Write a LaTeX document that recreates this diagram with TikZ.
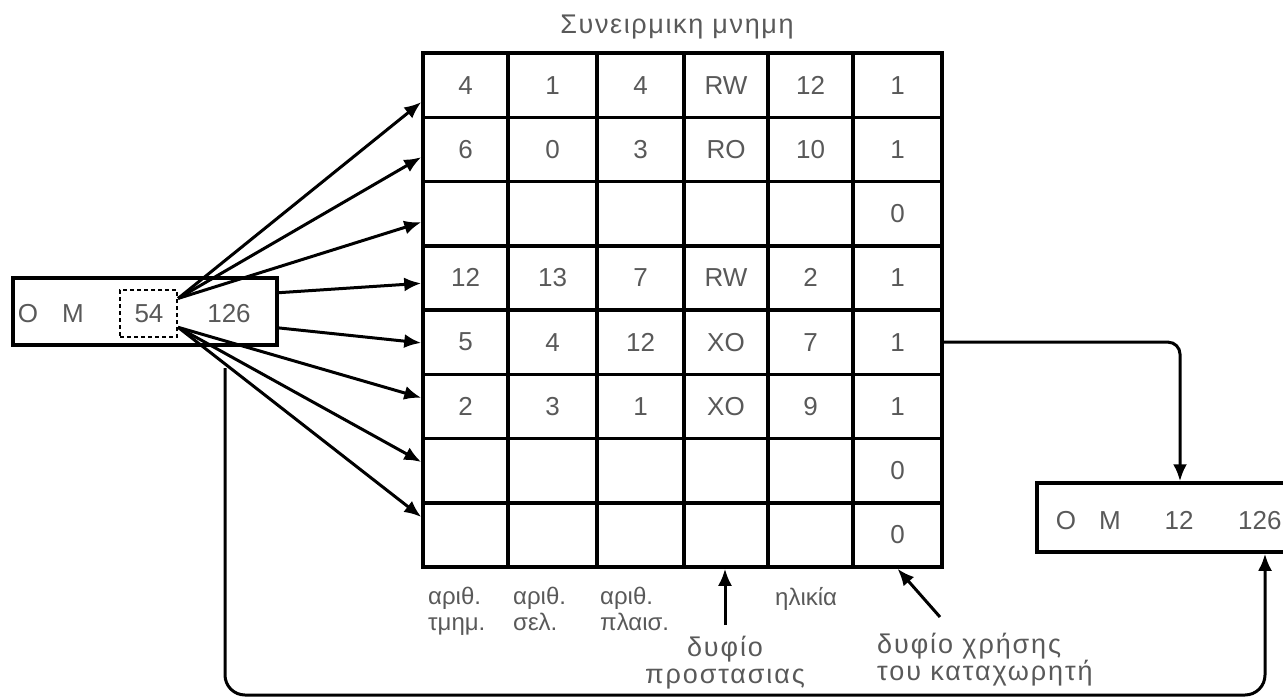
\documentclass[tikz,border=0pt]{standalone}
\usepackage{fontspec}
\setmainfont{Liberation Sans}
\newfontfamily\widefont[LetterSpace=7]{Liberation Sans}
\newfontfamily\titlefont[LetterSpace=6]{Liberation Sans}
\usetikzlibrary{arrows.meta}
\begin{document}
\begin{tikzpicture}[x=1pt,y=-1pt,
  cell/.style={draw, line width=3.5pt, minimum height=64.25pt, inner sep=0pt,
    font=\fontsize{26}{30}\selectfont, text=black!65},
  box/.style={draw, line width=3.5pt, inner sep=0pt},
  dbox/.style={draw, dashed, dash pattern=on 4pt off 3pt, line width=2.2pt, inner sep=0pt},
  conn/.style={draw, line width=3pt, -{Latex[length=17pt,width=14pt]}},
  txt/.style={font=\fontsize{26}{30}\selectfont, text=black!65, inner sep=0pt},
  lbl/.style={font=\fontsize{24}{26}\selectfont, text=black!65, inner sep=0pt},
  wlbl/.style={font=\widefont\fontsize{27}{27}\selectfont, text=black!65, inner sep=0pt},
]
\useasboundingbox (0,0) rectangle (1283,699);

% title
\node[txt, font=\titlefont\fontsize{27}{30}\selectfont] (title) at (677,27) {Συνειρμικη μνημη};

% table
\foreach \r/\y/\A/\B/\C/\D/\E/\F in {
  1/85.125/4/1/4/RW/12/1,
  2/149.375/6/0/3/RO/10/1,
  3/213.625/{}/{}/{}/{}/{}/0,
  4/277.875/12/13/7/RW/2/1,
  5/342.125/5/4/12/XO/7/1,
  6/406.375/2/3/1/XO/9/1,
  7/470.625/{}/{}/{}/{}/{}/0,
  8/534.875/{}/{}/{}/{}/{}/0}{
  \node[cell, minimum width=85pt] (c-\r-1) at (465.5,\y) {\A};
  \node[cell, minimum width=89pt] (c-\r-2) at (552.5,\y) {\B};
  \node[cell, minimum width=87pt] (c-\r-3) at (640.5,\y) {\C};
  \node[cell, minimum width=84pt] (c-\r-4) at (726,\y) {\D};
  \node[cell, minimum width=85pt] (c-\r-5) at (810.5,\y) {\E};
  \node[cell, minimum width=89pt] (c-\r-6) at (897.5,\y) {\F};
}

% left register
\node[box, minimum width=264pt, minimum height=67pt] (regL) at (145,311.5) {};
\node[txt, anchor=base] (lO) at (28,322) {O};
\node[txt, anchor=base] (lM) at (73,322) {M};
\node[txt, anchor=base] (l54) at (149,322) {54};
\node[txt, anchor=base] (l126) at (229,322) {126};
\node[dbox, minimum width=57pt, minimum height=47pt] (d54) at (148.5,313.5) {};

% right register
\node[box, minimum width=286pt, minimum height=69pt] (regR) at (1180,517.5) {};
\node[txt, anchor=base] (rO) at (1066,529) {O};
\node[txt, anchor=base] (rM) at (1110,529) {M};
\node[txt, anchor=base] (r12) at (1179,529) {12};
\node[txt, anchor=base west] (r126) at (1238,529) {126};

% fan of arrows
\draw[conn] (d54.27) -- (c-1-1.201);
\draw[conn] (d54.27) -- (c-2-1.190);
\draw[conn] (d54.27) -- (c-3-1.191);
\draw[conn] (regL.8) -- (c-4-1.187);
\draw[conn] (regL.353) -- (c-5-1.181);
\draw[conn] (d54.335) -- (c-6-1.169);
\draw[conn] (d54.335) -- (c-7-1.169);
\draw[conn] (d54.335) -- (c-8-1.158);

% table to right register
\draw[conn, rounded corners=12pt] (c-5-6.east) -| (regR.north);

% bottom loop
\coordinate (ls) at (225,368);
\coordinate (rb) at (1265,695);
\draw[conn, rounded corners=20pt] (ls) |- (rb) -- (regR.south -| rb);

% labels
\node[lbl, anchor=north west, align=left] (lseg) at (428,587) {αριθ.\\τμημ.};
\node[lbl, anchor=north west, align=left] (lpage) at (513,587) {αριθ.\\σελ.};
\node[lbl, anchor=north west, align=left] (lframe) at (600,587) {αριθ.\\πλαισ.};
\node[lbl, anchor=north west] (lage) at (775,587) {ηλικία};
\node[wlbl, anchor=north, align=center] (lprot) at (725,636) {δυφίο\\προστασιας};
\node[wlbl, anchor=north west, align=left] (lused) at (877,633) {δυφίο χρήσης\\του καταχωρητή};

\draw[conn, shorten <=11pt] (lprot.north) -- (lprot.north |- c-8-4.south);
\coordinate (ut) at (940,617);
\draw[conn] (ut) -- (c-8-6.south);
\end{tikzpicture}
\end{document}
